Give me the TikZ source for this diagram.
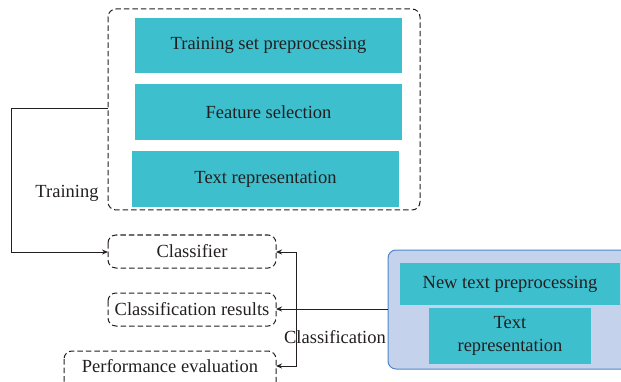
\documentclass[tikz,border=0pt]{standalone}
\usepackage{fontspec}
\setmainfont{Liberation Serif}
\usetikzlibrary{arrows.meta}
\definecolor{tealfill}{HTML}{3DBFCE}
\definecolor{panelfill}{HTML}{C4D3EB}
\definecolor{paneledge}{HTML}{4F86CC}
\definecolor{inktext}{HTML}{231F20}
\tikzset{
  lbl/.style={font=\fontsize{18.5}{23.5}\selectfont, text=inktext},
  stage/.style={fill=tealfill, draw=none},
  dashbox/.style={draw=inktext, dash pattern=on 5.5pt off 3pt, rounded corners=8pt, line width=1pt},
  link/.style={draw=inktext, line width=1pt},
  tip/.style={-{Stealth[length=6pt,width=5pt]}}
}
\begin{document}
\begin{tikzpicture}[x=1pt,y=-1pt]
\useasboundingbox (0,0) rectangle (621,382);
% training group
\draw[dashbox] (108,9) rectangle (420,210);
\coordinate (grpL) at (108,109);
\fill[stage] (135,18) rectangle (402,73);
\node[lbl] (tsp) at (268.5,45.5) {Training set preprocessing};
\fill[stage] (135,84) rectangle (402,140);
\node[lbl] (fs) at (268.5,112) {Feature selection};
\fill[stage] (132,151) rectangle (399,207);
\node[lbl] (tr) at (265.5,179) {Text representation};
\node[lbl] (trainlbl) at (67,193) {Training};
% outputs
\draw[dashbox] (108,235) rectangle (276,268);
\node[lbl] (clf) at (192,251.5) {Classifier};
\coordinate (clfL) at (108,252);
\coordinate (clfR) at (276,252);
\draw[dashbox] (108,293) rectangle (276,326);
\node[lbl] (cres) at (192,309.5) {Classification results};
\coordinate (cresR) at (276,309);
\draw[dashbox] (64,351) rectangle (276,400);
\node[lbl] (perf) at (170,366) {Performance evaluation};
\coordinate (perfR) at (276,366);
\node[lbl] (clslbl) at (335,337) {Classification};
% new text panel
\draw[fill=panelfill, draw=paneledge, line width=1pt, rounded corners=8pt] (388,250) rectangle (640,369);
\coordinate (panelL) at (388,309);
\fill[stage] (400,263) rectangle (620,305);
\node[lbl] (ntp) at (510,284) {New text preprocessing};
\fill[stage] (429,308) rectangle (591,364);
\node[lbl, align=center] (ntr) at (510,336) {Text\\representation};
% connectors
\draw[link, tip] (grpL) -- (11,109) -- (11,252) -- (clfL);
\draw[link, tip] (panelL) -- (cresR);
\draw[link, tip] (296,309) -- (296,252) -- (clfR);
\draw[link, tip] (296,309) -- (296,366) -- (perfR);
\end{tikzpicture}
\end{document}
